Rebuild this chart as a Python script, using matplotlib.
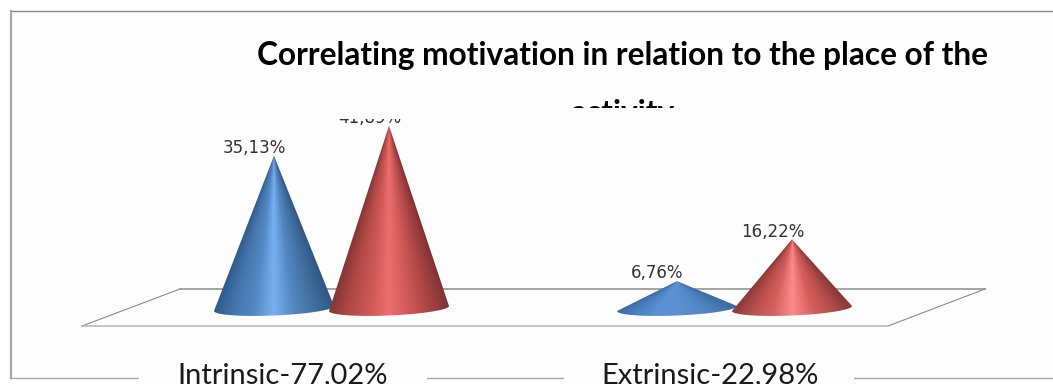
import numpy as np
import matplotlib
matplotlib.use("Agg")
import matplotlib.pyplot as plt
from matplotlib.colors import LinearSegmentedColormap
from matplotlib.patches import PathPatch, Rectangle
from matplotlib.path import Path

# porcentajes por tipo de motivacion, una serie por lugar de la actividad
categorias = ["Intrinsic-77,02%", "Extrinsic-22,98%"]
serie_azul = [35.13, 6.76]
serie_roja = [41.89, 16.22]
titulo = "Correlating motivation in relation to the place of the\nactivity"

ANCHO, ALTO = 1053, 384
BASE_Y = 311       # pixel de la base de los conos
ESCALA = 4.42      # pixeles por punto porcentual
GRUPO_0 = 331.5
GRUPO_DX = 403.0
DESP = 57.5 / GRUPO_DX
RADIO = 60.0 / GRUPO_DX
ELIPSE = 7.0 / ESCALA
GIRO = 2.5 / ESCALA  # la base esta un poco inclinada, mas alta a la derecha

azul_alto = ["#2f5c90", "#4576ae", "#5488c4", "#78b0f0", "#5387c2", "#42709f", "#2f5a88"]
rojo_alto = ["#853634", "#b04a47", "#cc5856", "#ee6e6e", "#cf5a58", "#aa4644", "#823533"]
azul_bajo = ["#3a6ba4", "#4c80bf", "#5a92d6", "#5b90d3", "#558acb", "#4a7db9", "#3d6ea6"]
rojo_bajo = ["#8a3937", "#b84e4b", "#d4605e", "#ff8a8a", "#d65f5d", "#b54d4a", "#8a3937"]


def dibujar_cono(ax, x, valor, colores):
    """dibuja un cono cuyo degradado converge en la punta, su altura es el valor recibido"""
    t = np.linspace(np.pi, 2 * np.pi, 40)
    xs = x + RADIO * np.cos(t)
    ys = ELIPSE * np.sin(t) + GIRO * (1 + np.cos(t))
    vertices = [(x, valor)] + list(zip(xs, ys)) + [(x, valor)]
    codigos = [Path.MOVETO] + [Path.LINETO] * (len(vertices) - 2) + [Path.CLOSEPOLY]
    forma = PathPatch(Path(vertices, codigos), facecolor="none", edgecolor="none",
                      transform=ax.transData)
    ax.add_patch(forma)

    mapa = LinearSegmentedColormap.from_list("cono", colores)
    gx, gy = np.meshgrid(np.linspace(-RADIO, RADIO, 300), np.linspace(-ELIPSE, valor, 300))
    radio_y = RADIO * np.clip(1 - gy / valor, 0.01, 1)
    u = np.clip(gx / radio_y, -1, 1) * 0.5 + 0.5
    img = ax.imshow(u, cmap=mapa, aspect="auto", origin="lower", vmin=0, vmax=1,
                    extent=(x - RADIO, x + RADIO, -ELIPSE, valor), zorder=2, interpolation="bilinear")
    img.set_clip_path(forma)


def etiqueta_valor(ax, x, valor, recorte=None):
    t = ax.annotate(f"{valor:.2f}".replace(".", ",") + "%", (x, valor), xytext=(-14, 2),
                    textcoords="offset points", ha="center", va="baseline",
                    fontsize=12, color="#333333", family="DejaVu Sans", zorder=3)
    if recorte is not None:
        t.set_clip_path(recorte)
        t.set_clip_on(True)


fig = plt.figure(figsize=(ANCHO / 100, ALTO / 100), dpi=100, facecolor="white")

# capa de fondo en pixeles: marco, piso y textos generales
fondo = fig.add_axes([0, 0, 1, 1])
fondo.set_xlim(0, ANCHO)
fondo.set_ylim(ALTO, 0)
fondo.axis("off")
fondo.add_patch(Rectangle((11, 11), ANCHO - 11, 366, facecolor="#fdfdfd", edgecolor="none"))
fondo.plot([10.5, ANCHO], [10.5, 10.5], color="#888888", lw=1)
fondo.plot([10.5, 10.5], [10.5, 377.5], color="#a8a8a8", lw=1.6)
fondo.plot([10.5, ANCHO], [377.5, 377.5], color="#a8a8a8", lw=1)
for x0, x1 in [(139, 427), (564, 854)]:
    fondo.add_patch(Rectangle((x0, 345), x1 - x0, 39, facecolor="#fefefe", edgecolor="none", zorder=3))

fondo.plot([180, 985], [289, 289], color="#8c8c8c", lw=1.1)
fondo.plot([82, 180], [326, 289], color="#8c8c8c", lw=0.8)
fondo.plot([888, 985], [326, 289], color="#8c8c8c", lw=0.8)
fondo.plot([82, 888], [326, 326], color="#b4b4b4", lw=1.1)

# la segunda linea del titulo queda cortada por el area del grafico
caja_titulo = Rectangle((0, 0), ANCHO, 108, transform=fondo.transData)
txt = fondo.text(622.5, 123, titulo, ha="center", va="baseline", fontsize=22.8, fontweight="bold",
                 family="Lato", color="black", linespacing=2.2, multialignment="center")
txt.set_clip_path(caja_titulo)
txt.set_clip_on(True)

fondo.text(283, 383, categorias[0], ha="center", va="baseline", fontsize=21, family="Lato",
           color="#1a1a1a", zorder=4)
fondo.text(710, 383, categorias[1], ha="center", va="baseline", fontsize=21, family="Lato",
           color="#1a1a1a", zorder=4)

# capa de datos: eje y en puntos porcentuales, eje x por grupos
ax = fig.add_axes([0, 0, 1, 1])
ax.patch.set_alpha(0)
ax.axis("off")

caja_etiquetas = Rectangle((0, 119), ANCHO, ALTO, transform=fondo.transData)

for i in range(len(categorias)):
    alto_azul = azul_alto if i == 0 else azul_bajo
    alto_rojo = rojo_alto if i == 0 else rojo_bajo
    dibujar_cono(ax, i - DESP, serie_azul[i], alto_azul)
    dibujar_cono(ax, i + DESP, serie_roja[i], alto_rojo)

ax.set_xlim(-GRUPO_0 / GRUPO_DX, (ANCHO - GRUPO_0) / GRUPO_DX)
ax.set_ylim((BASE_Y - ALTO) / ESCALA, BASE_Y / ESCALA)

for i in range(len(categorias)):
    etiqueta_valor(ax, i - DESP, serie_azul[i], caja_etiquetas)
    etiqueta_valor(ax, i + DESP, serie_roja[i], caja_etiquetas)

plt.savefig("out.png", dpi=100)
